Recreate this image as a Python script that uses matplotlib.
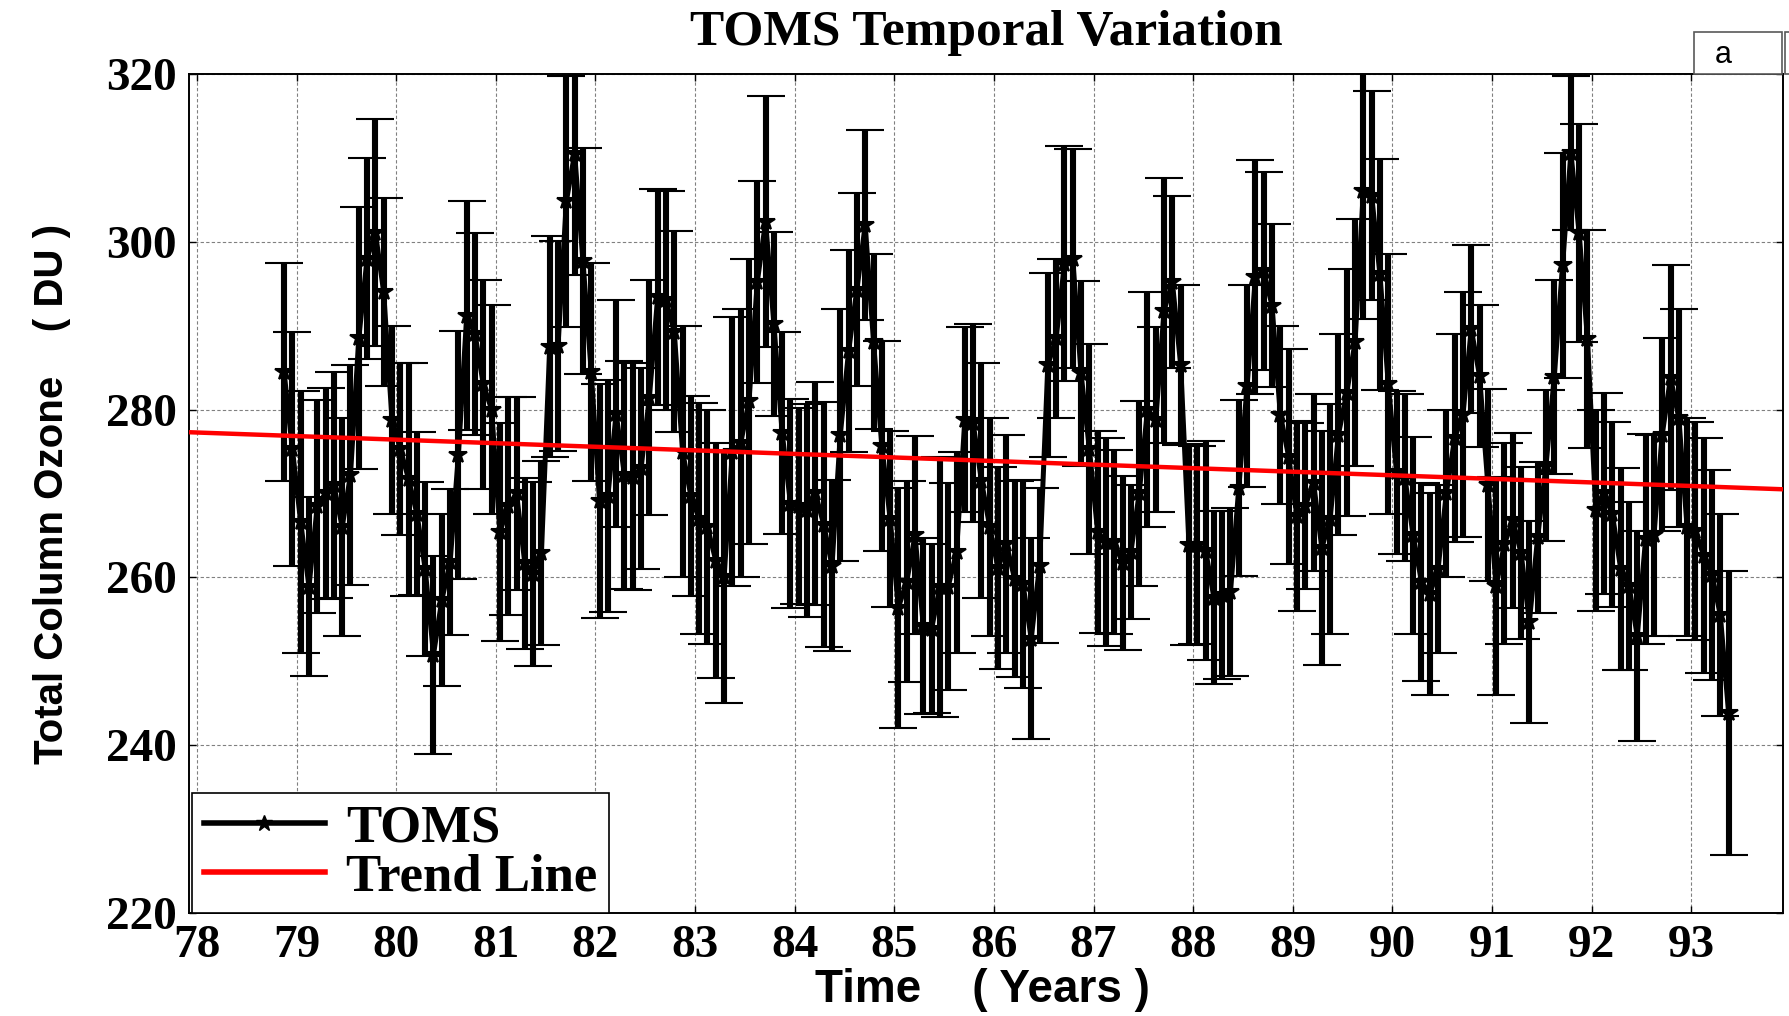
#!/usr/bin/env python3
"""TOMS temporal variation: monthly total column ozone with error bars and trend."""

import matplotlib

matplotlib.use("Agg")
import matplotlib.pyplot as plt
import numpy as np
from matplotlib.lines import Line2D
from matplotlib.patches import Rectangle

# first month of the record (Nov 1978), monthly sampling
start_year = 1978
start_month = 11

# monthly mean total column ozone (DU), Nov 1978 .. May 1993
ozone = [
    284.5, 275.3,
    266.6, 258.9, 268.5, 270.0, 271.0, 266.0, 272.2, 288.5, 298.0, 301.1, 294.0, 278.8,
    275.3, 271.7, 267.6, 261.0, 250.8, 257.3, 261.8, 274.6, 291.2, 289.0, 283.0, 280.0,
    265.4, 268.5, 270.0, 261.7, 260.4, 262.9, 287.5, 287.6, 304.8, 310.5, 297.7, 284.5,
    269.1, 269.7, 279.5, 272.2, 272.0, 273.0, 281.4, 293.4, 293.0, 289.3, 275.0, 269.7,
    267.0, 266.0, 262.0, 260.0, 275.0, 276.0, 281.0, 295.2, 302.4, 290.2, 277.2, 268.8,
    268.5, 268.0, 270.0, 266.3, 261.4, 277.0, 287.0, 294.3, 302.0, 288.1, 275.7, 267.0,
    256.4, 259.5, 265.0, 254.2, 253.9, 258.9, 258.9, 263.0, 278.8, 278.4, 271.5, 266.0,
    261.1, 264.0, 259.8, 259.2, 252.7, 261.4, 285.3, 288.5, 297.4, 298.0, 284.3, 275.3,
    265.4, 264.2, 264.2, 261.7, 263.0, 270.0, 280.0, 278.8, 291.8, 295.2, 285.3, 263.9,
    263.9, 263.2, 257.6, 257.9, 258.3, 270.7, 282.8, 295.8, 296.5, 292.4, 279.4, 274.4,
    267.3, 268.5, 271.3, 263.5, 267.0, 277.0, 282.0, 288.0, 306.1, 305.5, 296.1, 283.1,
    272.5, 271.9, 265.0, 259.5, 258.0, 261.0, 270.0, 276.6, 279.4, 289.6, 284.0, 271.0,
    259.0, 264.0, 266.8, 262.9, 254.7, 264.8, 273.3, 283.9, 297.2, 310.6, 301.0, 288.4,
    268.0, 270.0, 267.5, 261.0, 259.0, 253.0, 264.6, 265.0, 277.0, 283.8, 279.0, 266.0,
    265.5, 262.6, 260.3, 255.5, 243.8,
]

# one-sigma error of each monthly mean (DU)
ozone_err = [
    13.0, 14.0,
    15.6, 10.7, 12.7, 12.6, 13.5, 13.0, 13.1, 15.6, 12.0, 13.5, 11.2, 11.2,
    10.2, 13.9, 9.7, 10.4, 11.8, 10.3, 8.7, 14.8, 13.6, 12.0, 12.5, 12.5,
    13.0, 13.0, 11.5, 10.2, 11.0, 11.0, 13.2, 12.5, 15.0, 14.5, 13.5, 13.0,
    14.0, 13.8, 13.5, 13.6, 13.5, 12.0, 14.0, 12.9, 13.0, 12.0, 15.0, 11.9,
    13.8, 13.9, 14.0, 15.0, 16.0, 16.0, 17.0, 12.0, 15.0, 11.0, 12.0, 12.5,
    11.7, 12.7, 13.3, 14.6, 10.2, 15.0, 12.0, 11.5, 11.3, 10.4, 12.5, 10.5,
    14.3, 12.0, 11.8, 10.5, 10.1, 15.5, 12.3, 12.0, 11.0, 11.8, 14.0, 13.0,
    12.0, 13.0, 11.7, 12.4, 12.0, 9.2, 11.0, 9.5, 14.0, 13.0, 11.0, 12.5,
    12.0, 12.4, 11.0, 10.4, 8.0, 11.0, 14.0, 11.0, 15.8, 10.3, 9.5, 12.0,
    11.8, 13.0, 10.3, 10.0, 10.0, 10.5, 12.0, 14.0, 11.8, 9.7, 10.6, 12.8,
    11.3, 9.9, 10.6, 13.9, 13.7, 12.0, 14.7, 14.7, 15.3, 12.5, 13.8, 15.5,
    9.7, 10.0, 11.7, 11.8, 12.0, 10.0, 10.0, 12.4, 14.6, 10.0, 8.5, 11.4,
    13.0, 12.0, 10.4, 10.3, 12.0, 9.0, 9.0, 11.6, 13.4, 9.2, 13.0, 13.0,
    12.0, 12.0, 11.0, 12.0, 10.0, 12.5, 12.5, 12.0, 11.5, 13.4, 13.0, 13.0,
    13.0, 14.0, 12.5, 12.0, 16.9,
]

# linear trend, end points (years since 1900, DU)
trend_x = [77.92, 93.92]
trend_y = [277.3, 270.5]

x_ticks = list(range(78, 94))
y_ticks = [220, 240, 260, 280, 300, 320]
legend_labels = ["TOMS", "Trend Line"]

SERIF = "Liberation Serif"
SANS = "Liberation Sans"

plt.rcParams.update(
    {
        "font.family": SERIF,
        "font.weight": "bold",
        "axes.linewidth": 1.4,
    }
)


def decimal_years(n):
    """Mid-month decimal year (two-digit) for n months from the start."""
    idx = np.arange(n) + (start_month - 1)
    return (start_year - 1900) + idx / 12.0 + 0.5 / 12.0


def create_plot():
    fig = plt.figure(figsize=(17.89, 10.16), dpi=100)
    ax = fig.add_axes([0.1056, 0.1014, 0.8910, 0.8258])

    t = decimal_years(len(ozone))

    ax.errorbar(
        t, ozone, yerr=ozone_err,
        color="black", linewidth=3.6, elinewidth=4.4,
        capsize=14, capthick=4.4,
        marker="*", markersize=13, markeredgewidth=1.5,
        zorder=3,
    )
    ax.plot(trend_x, trend_y, color="red", linewidth=3.2, zorder=4)

    ax.set_xlim(77.92, 93.92)
    ax.set_ylim(220, 320)
    ax.set_xticks(x_ticks)
    ax.set_xticklabels([str(v) for v in x_ticks])
    ax.set_yticks(y_ticks)

    ax.tick_params(direction="in", top=True, right=True, length=5, width=1,
                   labelsize=34, pad=9)
    for lab in ax.get_xticklabels() + ax.get_yticklabels():
        lab.set_fontfamily(SERIF)
        lab.set_fontweight("bold")

    ax.grid(True, color="0.5", linestyle=(0, (3, 2)), linewidth=0.8)

    ax.set_title("TOMS Temporal Variation", fontsize=37, fontweight="bold",
                 fontfamily=SERIF, y=1.025)
    ax.set_xlabel("Time    ( Years )", fontsize=33, fontweight="bold", fontfamily=SANS)
    ax.xaxis.set_label_coords(0.498, -0.066)
    ax.set_ylabel("Total Column Ozone    ( DU )", fontsize=29, fontweight="bold",
                  fontfamily=SANS)
    ax.yaxis.set_label_coords(-0.074, 0.50)

    handles = [
        Line2D([], [], color="black", linewidth=4, marker="*", markersize=12,
               markeredgewidth=1),
        Line2D([], [], color="red", linewidth=4),
    ]
    leg = ax.legend(
        handles, legend_labels,
        loc="lower left", bbox_to_anchor=(0.002, 0.0), borderaxespad=0.0,
        fancybox=False, framealpha=1.0, edgecolor="black",
        prop={"family": SERIF, "weight": "bold", "size": 38},
        handlelength=2.3, handletextpad=0.4, labelspacing=0.02,
        borderpad=0.22,
    )
    leg.get_frame().set_linewidth(1.2)

    # panel tag box sitting on the upper right corner of the axes
    fig.add_artist(Rectangle((0.947, 0.9272), 0.049, 0.041, transform=fig.transFigure,
                             facecolor="white", edgecolor="0.35", linewidth=1.2))
    fig.add_artist(Rectangle((0.9975, 0.9272), 0.02, 0.041, transform=fig.transFigure,
                             facecolor="white", edgecolor="0.35", linewidth=1.2))
    fig.text(0.9635, 0.9455, "a", fontsize=22, fontfamily=SANS, fontweight="normal",
             ha="center", va="center")

    return fig


def main():
    fig = create_plot()
    fig.savefig("out.png", dpi=100, facecolor="white")
    plt.close(fig)


if __name__ == "__main__":
    main()
